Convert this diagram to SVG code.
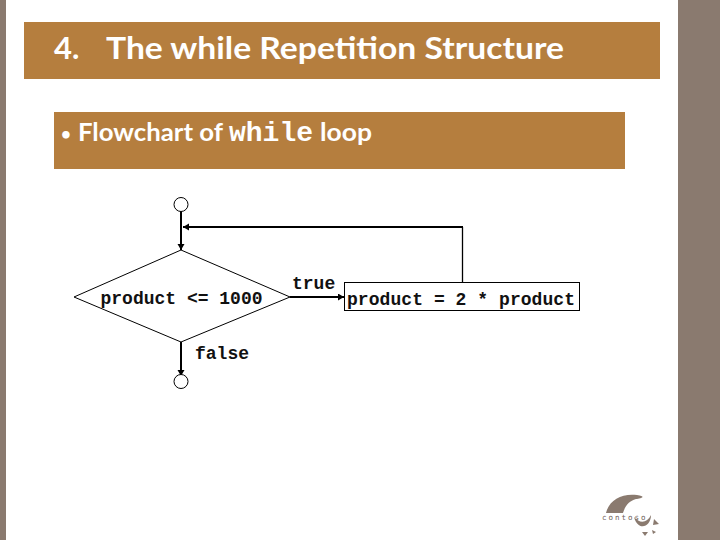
<svg xmlns="http://www.w3.org/2000/svg" width="720" height="540" viewBox="0 0 720 540">
<style>
.band{fill:#b57e3e}
.side{fill:#8a7a6f}
.head{font-family:"Lato","Open Sans",sans-serif;font-weight:700;fill:#fff}
.mono{font-family:"Liberation Mono",monospace;font-weight:700;font-size:18px;fill:#111}
.shape{fill:#fff;stroke:#000;stroke-width:1}
.conn{fill:none;stroke:#000;stroke-width:2}
.thin{fill:none;stroke:#000;stroke-width:1.3}
</style>
<defs>
<marker id="arr" markerUnits="userSpaceOnUse" markerWidth="8" markerHeight="8" refX="6" refY="3.5" orient="auto"><path d="M0 0L6 3.5L0 7Z" fill="#000"/></marker>
</defs>
<rect width="720" height="540" fill="#fff"/>
<rect class="side" x="0" y="0" width="6" height="540"/>
<rect class="side" x="678" y="0" width="42" height="540"/>
<g id="title">
<rect class="band" x="24" y="22" width="636" height="57"/>
<text class="head" x="54" y="59" font-size="31">4.</text>
<text class="head" x="106" y="59" font-size="31" textLength="458" lengthAdjust="spacingAndGlyphs">The while Repetition Structure</text>
</g>
<g id="subtitle">
<rect class="band" x="54" y="112" width="571" height="57"/>
<text class="head" x="61" y="140" font-size="17">•</text>
<text class="head" x="78" y="141" font-size="24" textLength="145" lengthAdjust="spacingAndGlyphs">Flowchart of</text>
<text x="229" y="141" font-family="'Liberation Mono',monospace" font-weight="700" font-size="28" fill="#fff">while</text>
<text class="head" x="320" y="141" font-size="24" textLength="52" lengthAdjust="spacingAndGlyphs">loop</text>
</g>
<g id="connectors">
<path class="conn" d="M181 211V250" marker-end="url(#arr)"/>
<path class="conn" d="M463 227H183" marker-end="url(#arr)"/>
<path class="thin" d="M462.500 227V283"/>
<path class="conn" d="M290 297H344" marker-end="url(#arr)"/>
<path class="conn" d="M181 342V376" marker-end="url(#arr)"/>
</g>
<g id="start"><circle class="shape" cx="181" cy="204.500" r="7"/></g>
<g id="decision">
<polygon class="shape" points="181,250 290,297 181,342 74,297"/>
<text class="mono" x="100.500" y="304">product &lt;= 1000</text>
</g>
<g id="true-label"><text class="mono" x="292" y="289">true</text></g>
<g id="false-label"><text class="mono" x="195" y="359">false</text></g>
<g id="process">
<rect class="shape" x="344.500" y="282.500" width="235" height="28"/>
<text class="mono" x="347" y="305" textLength="228">product = 2 * product</text>
</g>
<g id="end"><circle class="shape" cx="181" cy="381.500" r="7"/></g>
<g id="logo">
<path d="M606 513C609 500 622 493 637 495C648 497 640 498 636 499C629 501 625 506 623 513Z" fill="#8a7a6f"/>
<path d="M634 517C640 524 647 523 651 515C651 527 638 532 634 517Z" fill="#8a7a6f"/>
<text x="602" y="520" font-family="'DejaVu Sans Mono',monospace" font-size="7.500" letter-spacing="2" fill="#6f6259">contoso</text>
<path d="M654 519L659 524L653 525Z M642 532L648 532L645 536Z M652 530L656 532L653 534Z" fill="#8a7a6f"/>
</g>
</svg>
